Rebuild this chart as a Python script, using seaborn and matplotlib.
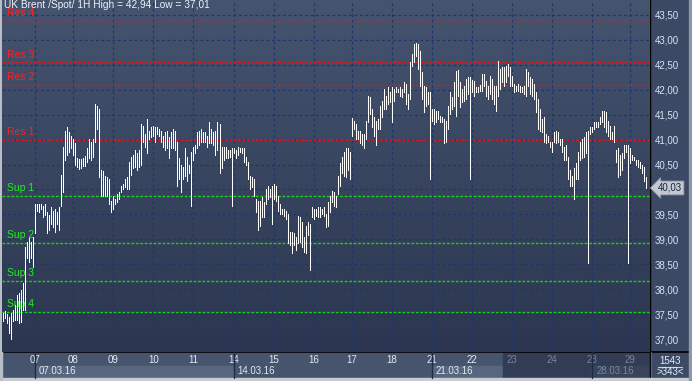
import matplotlib
matplotlib.use("Agg")
import matplotlib.pyplot as plt
import numpy as np
import seaborn as sns
from matplotlib.colors import LinearSegmentedColormap
from matplotlib.patches import Rectangle

# hourly bars, UK Brent spot, 04.03.16 - 29.03.16 (high / low)
high = [37.52, 37.56, 37.50, 37.44, 37.52, 37.58, 37.69, 37.89, 37.93, 37.99, 38.13, 38.85, 38.95, 39.03, 38.95, 39.05,
        39.70, 39.70, 39.70, 39.70, 39.66, 39.70, 39.54, 39.48, 39.64, 39.56, 39.60, 39.54, 39.64, 40.30, 40.86, 41.17, 41.25, 41.15, 41.07, 41.01,
        40.94, 40.64, 40.62, 40.62, 40.64, 40.68, 40.84, 41.01, 40.96, 41.01, 41.71, 41.67, 41.61, 40.40, 40.38, 40.28, 40.24, 40.20, 39.76, 39.86,
        39.80, 39.90, 39.94, 40.06, 40.10, 40.20, 40.24, 40.56, 40.66, 40.70, 40.80, 40.74, 40.80, 41.31, 41.27, 41.11, 41.41, 41.17, 41.25, 41.27,
        41.25, 41.25, 41.21, 41.17, 41.07, 41.15, 41.17, 41.05, 41.15, 41.21, 41.17, 40.96, 40.64, 40.50, 40.46, 40.84, 40.66, 40.50, 40.76, 40.86,
        40.90, 41.15, 41.17, 41.21, 41.15, 41.15, 41.07, 41.35, 41.21, 41.15, 41.17, 41.35, 41.31, 40.86, 40.86, 40.86, 40.80, 40.80, 40.84, 40.84,
        40.80, 40.86, 40.84, 40.84, 40.84, 40.66, 40.56, 40.26, 40.24, 40.20, 39.80, 39.76, 39.76, 39.84, 39.74, 40.00, 40.06, 40.00, 40.06, 40.10,
        40.06, 39.86, 39.70, 39.60, 39.60, 39.56, 39.50, 39.15, 39.15, 39.13, 39.05, 39.46, 39.44, 39.34, 39.05, 39.26, 39.34, 39.30, 39.64, 39.60,
        39.60, 39.64, 39.64, 39.60, 39.64, 39.50, 39.74, 39.86, 39.96, 39.94, 39.86, 40.26, 40.54, 40.66, 40.76, 40.84, 40.84, 40.76, 41.43, 41.37,
        41.31, 41.17, 41.17, 41.11, 41.11, 41.37, 41.87, 41.85, 41.61, 41.45, 41.37, 41.41, 41.67, 41.77, 42.01, 41.87, 42.05, 41.95, 42.05, 42.01,
        42.05, 42.01, 42.05, 42.01, 42.15, 42.11, 41.91, 42.55, 42.72, 42.92, 42.94, 42.92, 42.77, 42.35, 42.07, 42.05, 41.95, 41.95, 41.61, 41.61,
        41.57, 41.57, 41.47, 41.45, 41.41, 41.37, 41.67, 41.95, 41.85, 42.15, 42.37, 42.39, 42.15, 42.01, 42.07, 42.21, 42.25, 42.25, 42.19, 42.17,
        42.05, 42.05, 42.09, 42.31, 42.31, 42.17, 42.07, 42.27, 42.21, 42.07, 42.07, 42.57, 42.41, 42.45, 42.45, 42.47, 42.51, 42.45, 42.27, 42.11,
        42.07, 42.11, 42.07, 42.05, 42.07, 42.41, 42.35, 42.25, 42.21, 42.11, 41.95, 41.81, 41.61, 41.41, 41.45, 41.11, 41.07, 40.96, 40.96, 41.15,
        41.17, 41.15, 41.01, 41.01, 40.86, 40.90, 40.66, 40.40, 40.26, 40.44, 40.54, 40.76, 40.96, 41.01, 41.05, 41.15, 41.17, 41.25, 41.25, 41.35,
        41.35, 41.35, 41.45, 41.57, 41.57, 41.55, 41.37, 41.27, 41.15, 41.27, 40.80, 40.84, 40.70, 40.74, 40.90, 40.90, 40.90, 40.84, 40.70, 40.66,
        40.60, 40.60, 40.56, 40.50, 40.46, 40.24]
low = [37.36, 37.42, 37.32, 37.12, 37.01, 37.36, 37.38, 37.38, 37.32, 37.34, 37.58, 37.58, 38.63, 38.55, 38.63, 38.45,
       39.13, 39.56, 39.54, 39.60, 39.44, 39.48, 39.13, 39.19, 39.30, 39.24, 39.15, 39.30, 39.19, 39.66, 39.94, 40.60, 40.70, 40.76, 40.84, 40.70,
       40.50, 40.46, 40.42, 40.44, 40.48, 40.48, 40.56, 40.64, 40.60, 40.66, 40.96, 41.21, 40.24, 39.86, 39.86, 39.86, 39.86, 39.70, 39.54, 39.60,
       39.70, 39.74, 39.80, 39.94, 40.00, 40.04, 40.00, 40.00, 40.30, 40.44, 40.46, 40.40, 40.46, 40.50, 40.96, 40.86, 40.74, 41.01, 41.05, 41.07,
       40.96, 41.11, 41.07, 40.96, 40.86, 40.80, 40.84, 40.64, 40.84, 40.84, 40.80, 40.06, 40.20, 39.94, 40.20, 40.26, 40.16, 40.34, 39.66, 40.60,
       40.74, 40.84, 40.90, 40.96, 40.96, 40.96, 40.86, 40.94, 40.94, 40.90, 40.70, 40.80, 40.34, 40.44, 40.60, 40.64, 40.64, 40.66, 39.66, 40.74,
       40.64, 40.70, 40.76, 40.74, 40.56, 40.50, 40.20, 40.00, 40.04, 39.86, 39.54, 39.19, 39.26, 39.44, 39.44, 39.70, 39.80, 39.84, 39.30, 39.80,
       39.76, 39.56, 39.50, 39.50, 39.46, 39.40, 38.93, 38.89, 38.73, 38.89, 38.79, 38.93, 38.95, 38.85, 38.75, 38.73, 39.09, 38.39, 39.44, 39.40,
       39.46, 39.44, 39.44, 39.50, 39.46, 39.24, 39.26, 39.54, 39.74, 39.66, 39.64, 39.90, 40.06, 40.34, 40.26, 40.24, 40.40, 40.20, 41.07, 41.21,
       41.01, 41.01, 40.94, 40.90, 40.84, 41.01, 41.35, 41.51, 41.25, 41.07, 40.90, 41.21, 41.21, 41.45, 41.61, 41.61, 41.71, 41.75, 41.35, 41.77,
       41.95, 41.95, 41.87, 41.85, 41.95, 41.71, 41.61, 41.81, 42.47, 42.55, 42.68, 42.41, 42.07, 41.81, 41.55, 41.67, 41.71, 40.20, 41.37, 41.31,
       41.35, 41.41, 41.35, 41.35, 40.94, 40.96, 41.21, 41.51, 41.61, 41.67, 41.47, 41.87, 41.65, 41.75, 41.77, 41.81, 41.91, 40.20, 41.95, 41.87,
       41.95, 41.95, 41.97, 41.97, 42.07, 41.87, 41.81, 41.91, 41.81, 41.71, 41.57, 41.87, 42.01, 42.15, 42.07, 42.15, 42.27, 42.07, 42.07, 41.95,
       41.97, 41.97, 41.95, 41.95, 41.91, 41.87, 42.07, 41.91, 41.87, 41.81, 41.55, 41.21, 41.17, 41.15, 40.96, 40.94, 40.96, 40.86, 40.76, 40.96,
       40.94, 40.96, 40.90, 40.76, 40.60, 40.60, 40.20, 40.06, 40.06, 39.80, 40.20, 40.20, 40.60, 40.64, 40.66, 40.74, 38.53, 41.11, 41.15, 41.21,
       41.25, 41.25, 41.31, 41.35, 41.25, 41.15, 41.07, 41.01, 41.01, 40.96, 40.56, 40.24, 40.30, 40.40, 40.64, 40.76, 38.53, 40.54, 40.60, 40.60,
       40.50, 40.46, 40.44, 40.34, 40.16, 40.03]

day_labels = ["07", "08", "09", "10", "11", "14", "15", "16", "17", "18", "21", "22", "23", "24", "28", "29"]
day_start = [16, 35, 55, 75, 95, 115, 135, 155, 174, 194, 214, 234, 254, 274, 294, 313]
week_labels = ["07.03.16", "14.03.16", "21.03.16", "28.03.16"]
week_start = [16, 115, 214, 294]
res_levels = [41.00, 42.09, 42.55, 43.38]
sup_levels = [39.87, 38.93, 38.17, 37.54]
last_price = 40.03
price_ticks = [37.0, 37.5, 38.0, 38.5, 39.0, 39.5, 40.0, 40.5, 41.0, 41.5, 42.0, 42.5, 43.0, 43.5]
title = "UK Brent /Spot/ 1H High = 42,94 Low = 37,01"

sns.set_theme(style="dark")
plt.rcParams["font.family"] = ["Liberation Sans", "DejaVu Sans"]

W, H = 692, 381
fig = plt.figure(figsize=(W / 100, H / 100), dpi=100, facecolor="#3b4965")

# frame / strips in pixel coordinates
bg = fig.add_axes([0, 0, 1, 1])
bg.set_xlim(0, W)
bg.set_ylim(H, 0)
bg.axis("off")
bg.add_patch(Rectangle((0, 0), W, H, color="#3b4965", zorder=0))
bg.add_patch(Rectangle((0, 352), W, 27, color="#46546e", zorder=1))
bg.add_patch(Rectangle((36, 366), 198, 12, color="#57657e", zorder=2))
bg.add_patch(Rectangle((432, 366), 71, 12, color="#57657e", zorder=2))
bg.add_patch(Rectangle((503, 352), 147, 27, color="#323c55", zorder=3))
bg.add_patch(Rectangle((591, 366), 58, 12, color="#39435b", zorder=3))
bg.add_patch(Rectangle((650, 352), 40, 27, color="#3d4a66", zorder=3))
bg.plot([0, W], [352, 352], color="black", lw=1.2, zorder=5)
bg.plot([649.5, 649.5], [0, 378], color="black", lw=1, zorder=5)
bg.plot([650.5, 650.5], [352, 378], color="#59677f", lw=0.8, zorder=5)
# light outer border
bg.add_patch(Rectangle((0, 378), W, 3, color="#c9ccd2", zorder=6))
bg.add_patch(Rectangle((0, 0), 2, H, color="#b9bdc6", zorder=6))
bg.add_patch(Rectangle((689, 0), 3, H, color="#8d97a8", zorder=6))
bg.text(670, 361, "1543", color="#e8eef8", fontsize=7, ha="center", va="center", zorder=7)
bg.plot([658, 682], [366.5, 366.5], color="#c8d0dc", lw=0.8, zorder=7)
bg.text(670, 372, ">343<", color="#e8eef8", fontsize=7, ha="center", va="center", zorder=7)

# main price panel
x0, x1 = -0.5, 322.5
y0, y1 = 36.74, 43.80
ax = fig.add_axes([2 / W, 1 - 352 / H, 647.5 / W, 352 / H])
grad = LinearSegmentedColormap.from_list("bg", ["#45546f", "#2c3650"])
ax.imshow(np.linspace(0, 1, 256).reshape(-1, 1), cmap=grad, aspect="auto",
          extent=[x0, x1, y0, y1], zorder=0)
ax.set_xlim(x0, x1)
ax.set_ylim(y0, y1)
for s in ax.spines.values():
    s.set_visible(False)

grid_kw = dict(color="#1d3766", lw=0.9, linestyles=(0, (2.2, 2.2)), zorder=1)
ax.hlines(price_ticks, x0, x1, **grid_kw)
ax.vlines(day_start, y0, y1, **grid_kw)

for lv in res_levels:
    ax.axhline(lv, color="#e01818", lw=1, ls=(0, (2, 1.2)), zorder=2)
for lv in sup_levels:
    ax.axhline(lv, color="#16d416", lw=1, ls=(0, (2, 1.2)), zorder=2)
for i, lv in enumerate(res_levels):
    ax.annotate(f"Res {i + 1}", (2, lv), xytext=(0, 2), textcoords="offset points",
                color="#ff2020", fontsize=7.5, va="bottom", zorder=3)
for i, lv in enumerate(sup_levels):
    ax.annotate(f"Sup {i + 1}", (2, lv), xytext=(0, 2), textcoords="offset points",
                color="#22ee22", fontsize=7.5, va="bottom", zorder=3)

idx = np.arange(len(high))
ax.vlines(idx, low, high, color="white", lw=0.72, antialiased=False, zorder=4)

# right price scale (40,00 sits under the last-price tag)
ax.yaxis.tick_right()
ax.set_yticks(price_ticks)
ax.set_yticklabels(["" if t == 40.0 else f"{t:.2f}".replace(".", ",") for t in price_ticks])
ax.tick_params(axis="y", length=0, pad=4, labelsize=7, labelcolor="#d5e3f5")

# day labels
ax.set_xticks(day_start)
ax.set_xticklabels(day_labels)
ax.tick_params(axis="x", length=0, pad=2.5, labelsize=7, labelcolor="#e4eaf2")
for lab in ax.get_xticklabels()[12:]:
    lab.set_color("#7a869b")
ax.grid(False)

xt = ax.get_xaxis_transform()
for ws, wl in zip(week_start, week_labels):
    ax.plot([ws, ws], [-0.075, 0], transform=xt, clip_on=False, color="#1c2b48", lw=1)
    ax.text(ws + 2, -0.055, wl, transform=xt, fontsize=7, va="center", ha="left",
            color="#e4eaf2" if wl != week_labels[-1] else "#7a869b", clip_on=False)

ax.text(0.5, 43.7, title, fontsize=7.3, color="#eef2f8", va="center", ha="left", zorder=6)

# last price tag
ax.annotate(f"{last_price:.2f}".replace(".", ","), (x1, last_price), xytext=(6, 0),
            textcoords="offset points", annotation_clip=False, fontsize=7, color="#1a2640",
            va="center", ha="left",
            bbox=dict(boxstyle="larrow,pad=0.2", fc="#c4c8d0", ec="#8a93a3", lw=0.6))

fig.savefig("out.png", dpi=100, facecolor=fig.get_facecolor())
